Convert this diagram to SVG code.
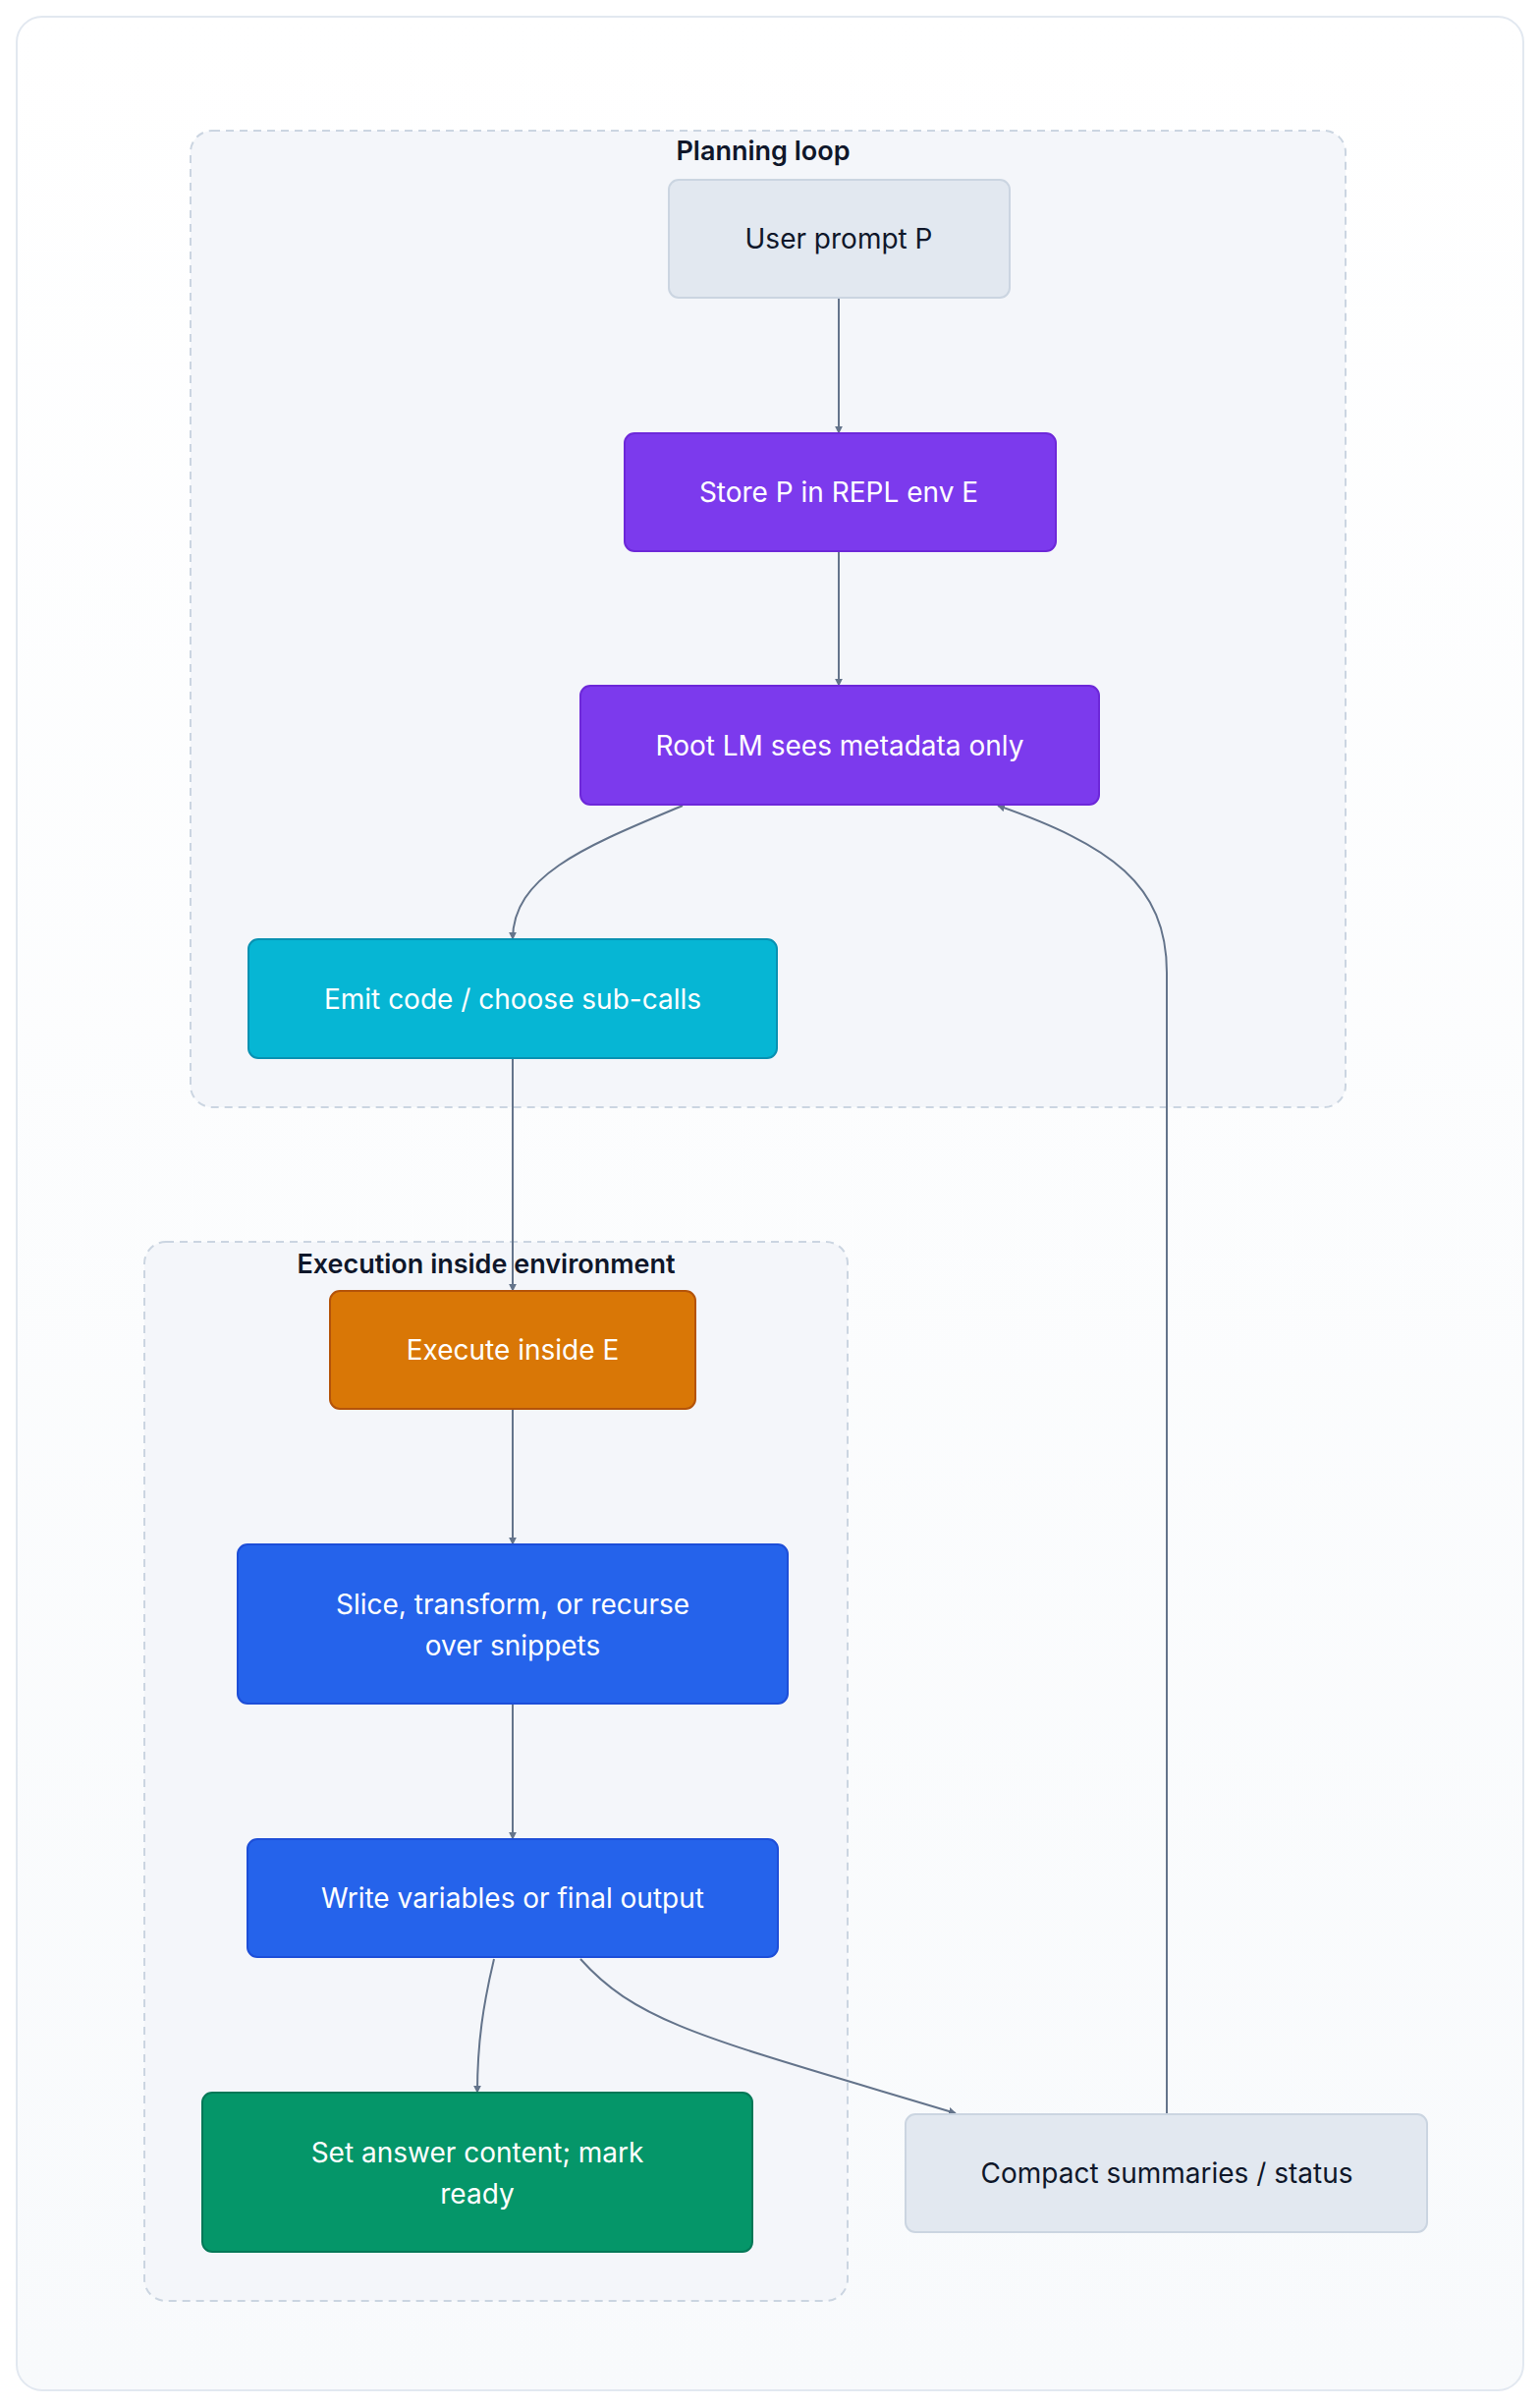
<svg xmlns="http://www.w3.org/2000/svg" width="1568" height="2450" viewBox="0 0 1568 2450">
<defs>
<linearGradient id="bg" x1="0" y1="0" x2="0" y2="1"><stop offset="0" stop-color="#ffffff"/><stop offset="1" stop-color="#f8fafc"/></linearGradient>
<marker id="ah" viewBox="0 0 10 10" refX="9" refY="5" markerWidth="8" markerHeight="8" markerUnits="userSpaceOnUse" orient="auto"><path d="M0,0 L10,5 L0,10 z" fill="#64748b"/></marker>
<style>
text{font-family:Inter,"Noto Sans","Liberation Sans",sans-serif;text-anchor:middle;dominant-baseline:central}
.t{font-size:28px;fill:#ffffff}
.d{fill:#0f172a}
.cl{fill:#f4f6fa;stroke:#cbd5e1;stroke-width:2;stroke-dasharray:8 6}
.cll{font-size:27px;font-weight:600;fill:#0f172a}
.e{fill:none;stroke:#64748b;stroke-width:2;marker-end:url(#ah)}
</style>
</defs>
<rect x="17" y="17" width="1534" height="2416" rx="26" fill="url(#bg)" stroke="#e2e8f0" stroke-width="2"/>
<g id="cluster-planning"><rect class="cl" x="194" y="133" width="1176" height="994" rx="22"/><text class="cll" x="777" y="153">Planning loop</text></g>
<g id="cluster-exec"><rect class="cl" x="147" y="1264" width="716" height="1078" rx="22"/><text class="cll" x="495" y="1286">Execution inside environment</text></g>
<g id="connectors">
<path class="e" d="M854,303 L854,441"/>
<path class="e" d="M854,561 L854,698"/>
<path class="e" d="M695,820 C600,860 522,890 522,956"/>
<path class="e" d="M522,1077 L522,1314"/>
<path class="e" d="M522,1434 L522,1572"/>
<path class="e" d="M522,1734 L522,1872"/>
<path class="e" d="M503,1994 C492,2040 486,2080 486,2130"/>
<path class="e" d="M591,1994 C650,2060 720,2075 973,2151"/>
<path class="e" d="M1188,2152 L1188,990 C1188,900 1130,860 1016,820"/>
</g>
<g id="n-user"><rect x="681" y="183" width="347" height="120" rx="10" fill="#e2e8f0" stroke="#cbd5e1" stroke-width="2"/><text class="t d" x="854" y="243">User prompt P</text></g>
<g id="n-store"><rect x="636" y="441" width="439" height="120" rx="10" fill="#7c3aed" stroke="#6d28d9" stroke-width="2"/><text class="t" x="854" y="501">Store P in REPL env E</text></g>
<g id="n-root"><rect x="591" y="698" width="528" height="121" rx="10" fill="#7c3aed" stroke="#6d28d9" stroke-width="2"/><text class="t" x="855" y="759">Root LM sees metadata only</text></g>
<g id="n-emit"><rect x="253" y="956" width="538" height="121" rx="10" fill="#06b6d4" stroke="#0891b2" stroke-width="2"/><text class="t" x="522" y="1017">Emit code / choose sub-calls</text></g>
<g id="n-exec"><rect x="336" y="1314" width="372" height="120" rx="10" fill="#d97706" stroke="#b45309" stroke-width="2"/><text class="t" x="522" y="1374">Execute inside E</text></g>
<g id="n-slice"><rect x="242" y="1572" width="560" height="162" rx="10" fill="#2563eb" stroke="#1d4ed8" stroke-width="2"/><text class="t" x="522" y="1633">Slice, transform, or recurse</text><text class="t" x="522" y="1675">over snippets</text></g>
<g id="n-write"><rect x="252" y="1872" width="540" height="120" rx="10" fill="#2563eb" stroke="#1d4ed8" stroke-width="2"/><text class="t" x="522" y="1932">Write variables or final output</text></g>
<g id="n-set"><rect x="206" y="2130" width="560" height="162" rx="10" fill="#059669" stroke="#047857" stroke-width="2"/><text class="t" x="486" y="2191">Set answer content; mark</text><text class="t" x="486" y="2233">ready</text></g>
<g id="n-compact"><rect x="922" y="2152" width="531" height="120" rx="10" fill="#e2e8f0" stroke="#cbd5e1" stroke-width="2"/><text class="t d" x="1188" y="2212">Compact summaries / status</text></g>
</svg>
